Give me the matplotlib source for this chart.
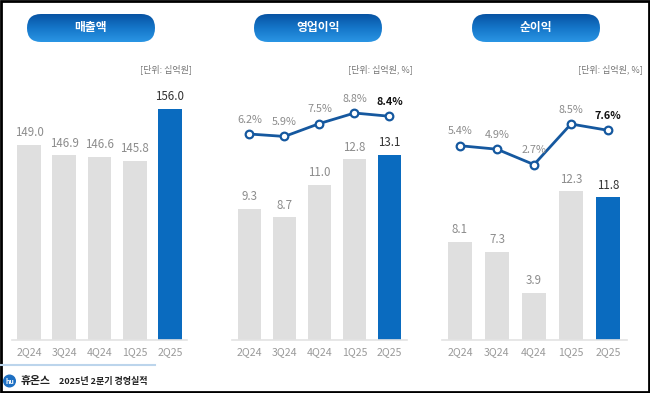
import numpy as np
import matplotlib
matplotlib.use('Agg')
import matplotlib.pyplot as plt
from matplotlib.patches import FancyBboxPatch, Rectangle, Circle
from matplotlib.colors import LinearSegmentedColormap

plt.rcParams['font.family'] = ['Noto Sans CJK KR', 'DejaVu Sans']

# ---------------- data ----------------
quarters = ['2Q24', '3Q24', '4Q24', '1Q25', '2Q25']
revenue = [149.0, 146.9, 146.6, 145.8, 156.0]
op_profit = [9.3, 8.7, 11.0, 12.8, 13.1]
op_margin = [6.2, 5.9, 7.5, 8.8, 8.4]
net_profit = [8.1, 7.3, 3.9, 12.3, 11.8]
net_margin = [5.4, 4.9, 2.7, 8.5, 7.6]
titles = ['매출액', '영업이익', '순이익']
units = ['[단위: 십억원]', '[단위: 십억원, %]', '[단위: 십억원, %]']
footer_company = '휴온스'
footer_text = '2025년 2분기 경영실적'

# ---------------- style ----------------
GRAY_BAR = '#dfdfdf'
BLUE_BAR = '#0a6bbf'
LINE_C = '#15589f'
LBL_GRAY = '#8c8c8c'
TICK_GRAY = '#9a9a9a'

W, H = 650, 393
fig = plt.figure(figsize=(6.5, 3.93), dpi=100)
fig.patch.set_facecolor('white')

ov = fig.add_axes([0, 0, 1, 1])
ov.set_xlim(0, W)
ov.set_ylim(H, 0)
ov.axis('off')


def px_axes(x0, x1, ytop, ybot):
    a = fig.add_axes([x0 / W, (H - ybot) / H, (x1 - x0) / W, (ybot - ytop) / H])
    a.set_facecolor('none')
    return a


def pill(cx, cy, w, h, text):
    x0, y0 = cx - w / 2, cy - h / 2
    p = FancyBboxPatch((x0, y0), w, h, boxstyle=f"round,pad=0,rounding_size={h/2}",
                       linewidth=0, facecolor='none')
    ov.add_patch(p)
    cmap = LinearSegmentedColormap.from_list('g', ['#0753a3', '#1576c9', '#2a95e4'])
    grad = np.linspace(0, 1, 64).reshape(-1, 1)
    im = ov.imshow(grad, cmap=cmap, extent=(x0, x0 + w, y0 + h, y0), aspect='auto',
                   interpolation='bilinear')
    im.set_clip_path(p)
    ov.text(cx, cy, text, color='white', fontsize=8.5, fontweight='bold',
            ha='center', va='center')


def style_axes(a, xlim):
    a.set_xlim(*xlim)
    for s in ['top', 'left', 'right']:
        a.spines[s].set_visible(False)
    a.spines['bottom'].set_color('#e3e3e3')
    a.spines['bottom'].set_linewidth(1.2)
    a.set_yticks([])
    a.set_xticks(range(len(quarters)))
    a.set_xticklabels(quarters)
    a.tick_params(axis='x', length=0, pad=5, labelsize=7.6, labelcolor=TICK_GRAY)


YTOP, YBOT = 90, 340
panels = [
    dict(x=(12, 187), xlim=(-0.483, 4.483), bars=revenue, ylim=(111, 159.6), width=0.68,
         line=None, lylim=None),
    dict(x=(232, 407), xlim=(-0.5, 4.5), bars=op_profit, ylim=(0, 17.7), width=0.67,
         line=op_margin, lylim=(-19.3, 11.65)),
    dict(x=(441.5, 626.5), xlim=(-0.5, 4.5), bars=net_profit, ylim=(0, 20.66), width=0.65,
         line=net_margin, lylim=(-22.36, 13.36)),
]

xs = np.arange(len(quarters))
for i, pd_ in enumerate(panels):
    a = px_axes(pd_['x'][0], pd_['x'][1], YTOP, YBOT)
    colors = [GRAY_BAR] * (len(quarters) - 1) + [BLUE_BAR]
    a.bar(xs, pd_['bars'], width=pd_['width'], color=colors, zorder=2)
    a.set_ylim(*pd_['ylim'])
    style_axes(a, pd_['xlim'])
    for j, v in enumerate(pd_['bars']):
        last = j == len(quarters) - 1
        a.annotate(f'{v:.1f}', (xs[j], v), xytext=(0, 4), textcoords='offset points',
                   ha='center', va='bottom', fontsize=8.3,
                   color='#333333' if last else LBL_GRAY)
    if pd_['line'] is not None:
        b = a.twinx()
        b.set_facecolor('none')
        b.plot(xs, pd_['line'], color=LINE_C, lw=2, marker='o', ms=5.5,
               mfc='white', mec=LINE_C, mew=1.6, zorder=3)
        b.set_ylim(*pd_['lylim'])
        b.set_xlim(*pd_['xlim'])
        b.axis('off')
        for j, v in enumerate(pd_['line']):
            last = j == len(quarters) - 1
            b.annotate(f'{v:.1f}%', (xs[j], v), xytext=(0, 10.3), textcoords='offset points',
                       ha='center', va='center', fontsize=7.8,
                       color='#111111' if last else LBL_GRAY,
                       fontweight='bold' if last else 'normal')

# titles and units
pill_centers = [91, 318, 536]
for cx, t in zip(pill_centers, titles):
    pill(cx, 28, 128, 28, t)
unit_right = [192, 413, 643]
for xr, u in zip(unit_right, units):
    ov.text(xr, 69, u, ha='right', va='center', fontsize=6.5, color='#777777')

# footer
ov.plot([0, 155], [365, 365], color='#bcd5ec', lw=1.5)
ov.add_patch(Circle((9.5, 381), 5.8, color='#1d6fc2'))
ov.text(9.5, 381, 'hu', color='white', fontsize=5, fontweight='bold', ha='center', va='center')
ov.text(20.5, 381, footer_company, fontsize=7.8, fontweight='bold', ha='left', va='center',
        color='#222222')
ov.text(59, 381.5, footer_text, fontsize=6.5, fontweight='bold', ha='left', va='center',
        color='#222222')

# border
ov.add_patch(Rectangle((1, 1), W - 2, H - 2, fill=False, edgecolor='black', lw=2))

fig.savefig('out.png', dpi=100)
